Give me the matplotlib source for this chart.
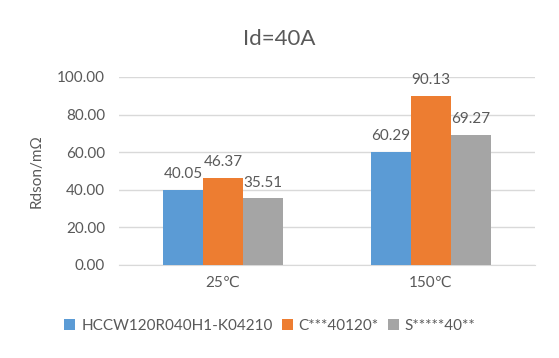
import numpy as np
import matplotlib
matplotlib.use("Agg")
import matplotlib.pyplot as plt

plt.rcParams['font.family'] = ['Lato', 'DejaVu Sans']

categories = ['25℃', '150℃']
series_names = ['HCCW120R040H1-K04210', 'C***40120*', 'S*****40**']
hccw = [40.05, 60.29]
c_dev = [46.37, 90.13]
s_dev = [35.51, 69.27]
colors = ['#5B9BD5', '#ED7D31', '#A5A5A5']
txt = '#595959'

fig = plt.figure(figsize=(5.59, 3.58), dpi=100)
ax = fig.add_axes([0.213, 0.260, 0.744, 0.525])

x = np.arange(len(categories))
w = 0.192
for k, (vals, name, col) in enumerate(zip([hccw, c_dev, s_dev], series_names, colors)):
    pos = x + (k - 1) * w
    ax.bar(pos, vals, width=w, color=col, label=name, zorder=3)
    for p, v in zip(pos, vals):
        ax.text(p, v + 4.5, f'{v:.2f}', ha='center', va='bottom', fontsize=11, color=txt)

ax.set_xlim(-0.5, 1.5)
ax.set_ylim(0, 100)
ax.set_yticks(np.arange(0, 101, 20))
ax.set_yticklabels([f'{t:.2f}' for t in np.arange(0, 101, 20)])
ax.set_xticks(x)
ax.set_xticklabels(categories)
ax.yaxis.grid(True, color='#D9D9D9', linewidth=1, zorder=0)
ax.tick_params(axis='both', length=0, labelsize=11, colors=txt)
ax.tick_params(axis='y', pad=10)
ax.tick_params(axis='x', pad=8)
for s in ['top', 'right', 'left']:
    ax.spines[s].set_visible(False)
ax.spines['bottom'].set_color('#D9D9D9')
ax.set_ylabel('Rdson/mΩ', fontsize=11, color=txt, labelpad=10)
fig.text(0.5, 0.89, 'Id=40A', ha='center', va='center', fontsize=16, color=txt)

fig.legend(loc='center', bbox_to_anchor=(0.483, 0.09), ncol=3, frameon=False,
           fontsize=11, labelcolor=txt, handlelength=0.7, handleheight=0.7,
           handletextpad=0.4, columnspacing=0.6)

fig.savefig('out.png', dpi=100)
